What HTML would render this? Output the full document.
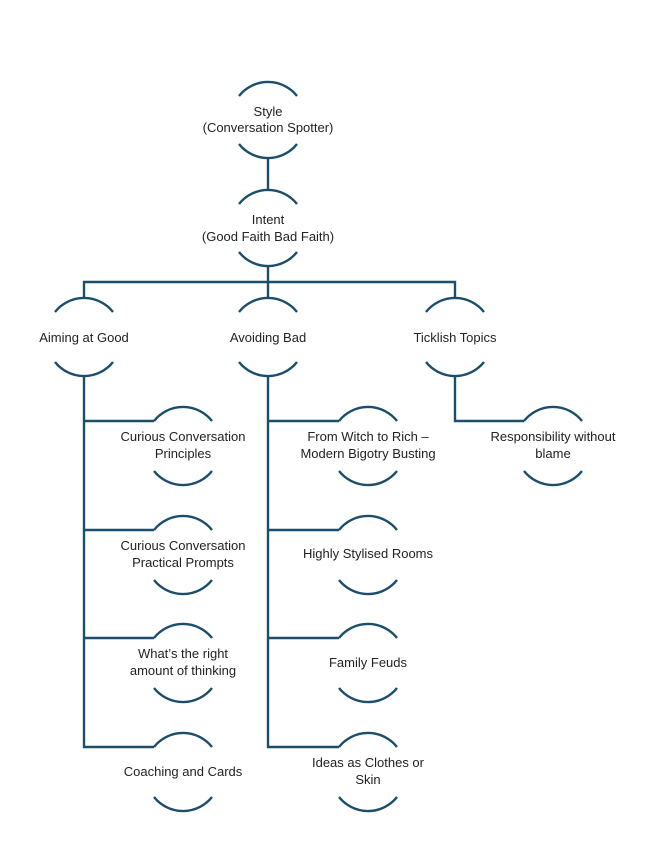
<!DOCTYPE html>
<html><head><meta charset="utf-8"><style>
html,body{margin:0;padding:0;background:#fff;}
svg{display:block}
text{font-family:"Liberation Sans",sans-serif;font-size:13px;fill:#222;text-anchor:middle}
.l{stroke:#1c4e6b;stroke-width:2.4;fill:none}
</style></head><body>
<svg width="647" height="866" viewBox="0 0 647 866" xmlns="http://www.w3.org/2000/svg">
<g class="l">
<!-- connectors -->
<path d="M268 158 V190"/>
<path d="M268 266 V282"/>
<path d="M84 298 V282 H455 V298"/>
<path d="M268 282 V298"/>
<path d="M84 376 V747 H154"/>
<path d="M84 421 H154 M84 530 H154 M84 638 H154"/>
<path d="M268 376 V747 H339"/>
<path d="M268 421 H339 M268 530 H339 M268 638 H339"/>
<path d="M455 376 V421 H524"/>
<!-- Style -->
<path d="M239 96 A37 37 0 0 1 297 96"/><path d="M239 144 A37 37 0 0 0 297 144"/>
<!-- Intent -->
<path d="M239 204 A37 37 0 0 1 297 204"/><path d="M239 252 A37 37 0 0 0 297 252"/>
<!-- level 2 -->
<path d="M55 312 A37 37 0 0 1 113 312"/><path d="M55 362 A37 37 0 0 0 113 362"/>
<path d="M239 312 A37 37 0 0 1 297 312"/><path d="M239 362 A37 37 0 0 0 297 362"/>
<path d="M426 312 A37 37 0 0 1 484 312"/><path d="M426 362 A37 37 0 0 0 484 362"/>
<!-- aiming children cx=183 -->
<path d="M154 421 A37 37 0 0 1 212 421"/><path d="M154 471 A37 37 0 0 0 212 471"/>
<path d="M154 530 A37 37 0 0 1 212 530"/><path d="M154 580 A37 37 0 0 0 212 580"/>
<path d="M154 638 A37 37 0 0 1 212 638"/><path d="M154 688 A37 37 0 0 0 212 688"/>
<path d="M154 747 A37 37 0 0 1 212 747"/><path d="M154 797 A37 37 0 0 0 212 797"/>
<!-- avoiding children cx=368 -->
<path d="M339 421 A37 37 0 0 1 397 421"/><path d="M339 471 A37 37 0 0 0 397 471"/>
<path d="M339 530 A37 37 0 0 1 397 530"/><path d="M339 580 A37 37 0 0 0 397 580"/>
<path d="M339 638 A37 37 0 0 1 397 638"/><path d="M339 688 A37 37 0 0 0 397 688"/>
<path d="M339 747 A37 37 0 0 1 397 747"/><path d="M339 797 A37 37 0 0 0 397 797"/>
<!-- ticklish child cx=553 -->
<path d="M524 421 A37 37 0 0 1 582 421"/><path d="M524 471 A37 37 0 0 0 582 471"/>
</g>
<text x="268" y="116">Style</text>
<text x="268" y="132">(Conversation Spotter)</text>
<text x="268" y="224">Intent</text>
<text x="268" y="241">(Good Faith Bad Faith)</text>
<text x="84" y="342">Aiming at Good</text>
<text x="268" y="342">Avoiding Bad</text>
<text x="455" y="342">Ticklish Topics</text>
<text x="183" y="441">Curious Conversation</text>
<text x="183" y="458">Principles</text>
<text x="183" y="550">Curious Conversation</text>
<text x="183" y="567">Practical Prompts</text>
<text x="183" y="658">What’s the right</text>
<text x="183" y="675">amount of thinking</text>
<text x="183" y="776">Coaching and Cards</text>
<text x="368" y="441">From Witch to Rich –</text>
<text x="368" y="458">Modern Bigotry Busting</text>
<text x="368" y="558">Highly Stylised Rooms</text>
<text x="368" y="667">Family Feuds</text>
<text x="368" y="767">Ideas as Clothes or</text>
<text x="368" y="784">Skin</text>
<text x="553" y="441">Responsibility without</text>
<text x="553" y="458">blame</text>
</svg>
</body></html>
